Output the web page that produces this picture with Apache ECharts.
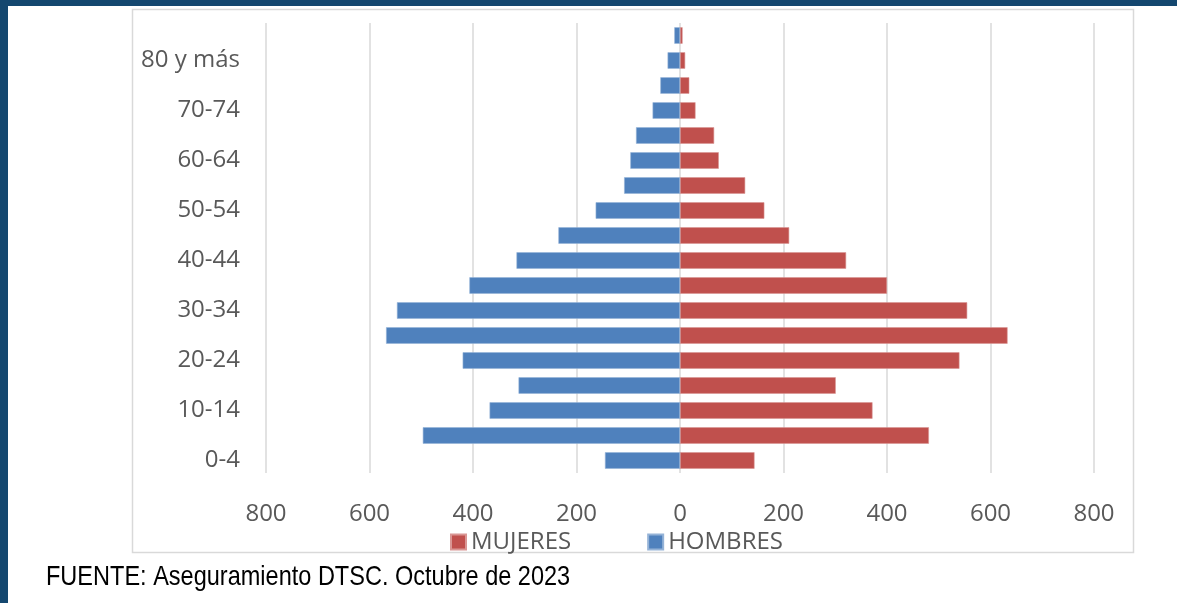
<!DOCTYPE html>
<html>
<head>
<meta charset="utf-8">
<script src="https://cdn.jsdelivr.net/npm/echarts@6/dist/echarts.min.js"></script>
<style>
  html, body { margin: 0; padding: 0; background: #fff; }
  #chart { width: 1177px; height: 603px; }
</style>
</head>
<body>
<div id="chart"></div>
<script>
// grupos de edad (abajo -> arriba)
var edades = ['0-4', '5-9', '10-14', '15-19', '20-24', '25-29', '30-34', '35-39', '40-44',
  '45-49', '50-54', '55-59', '60-64', '65-69', '70-74', '75-79', '80 y más', '85 y más'];
var mujeres = [144, 481, 372, 301, 540, 633, 555, 400, 321, 211, 163, 126, 75, 66, 30, 18, 10, 5];
var hombres = [145, 497, 368, 312, 420, 568, 547, 407, 316, 235, 163, 108, 96, 85, 53, 38, 24, 11];
var ticks = [-800, 800, 200]; // min, max, intervalo
var fuente = 'FUENTE: Aseguramiento DTSC. Octubre de 2023';

var txtColor = '#595959';
var font = 'Open Sans';

var chart = echarts.init(document.getElementById('chart'));
chart.setOption({
  backgroundColor: '#fff',
  animation: false,
  color: ['#C0504D', '#4F81BD'],
  graphic: [
    // marco azul
    { type: 'rect', shape: { x: 0, y: 0, width: 1177, height: 6 }, style: { fill: '#14476F' }, silent: true },
    { type: 'rect', shape: { x: 0, y: 0, width: 8, height: 603 }, style: { fill: '#14476F' }, silent: true },
    // borde del grafico
    { type: 'rect', shape: { x: 132.5, y: 9.5, width: 1001, height: 543 },
      style: { fill: 'none', stroke: '#D9D9D9', lineWidth: 1.5 }, silent: true, z: -1 },
    // nota de fuente (letra angosta)
    { type: 'text', x: 46, y: 577, scaleX: 0.84,
      style: { x: 0, y: 0, text: fuente, fill: '#000', verticalAlign: 'middle',
        font: '28px "Liberation Sans", Arial, sans-serif' } }
  ],
  grid: { left: 266, right: 83, top: 23, bottom: 130 },
  legend: {
    top: 525,
    left: 445,
    icon: 'rect',
    itemWidth: 15,
    itemHeight: 15,
    itemGap: 76,
    textStyle: { color: txtColor, fontSize: 24, fontFamily: font },
    data: ['MUJERES', 'HOMBRES']
  },
  xAxis: {
    type: 'value',
    min: ticks[0],
    max: ticks[1],
    interval: ticks[2],
    axisLine: { show: false },
    axisTick: { show: false },
    splitLine: { lineStyle: { color: '#D9D9D9', width: 1.5 } },
    axisLabel: {
      color: txtColor, fontSize: 24, fontFamily: font, margin: 29,
      formatter: function (v) { return Math.abs(v); }
    }
  },
  yAxis: {
    type: 'category',
    data: edades,
    axisLine: { show: false },
    axisTick: { show: false },
    axisLabel: { color: txtColor, fontSize: 24, fontFamily: font, interval: 1, margin: 26 }
  },
  series: [
    {
      name: 'MUJERES', type: 'bar', stack: 'p', barCategoryGap: '34%',
      itemStyle: { borderColor: '#D99694', borderWidth: 0.6 },
      data: mujeres
    },
    {
      name: 'HOMBRES', type: 'bar', stack: 'p', barCategoryGap: '34%',
      itemStyle: { borderColor: '#95B3D7', borderWidth: 0.6 },
      data: hombres.map(function (v) { return -v; })
    }
  ]
});
</script>
</body>
</html>
